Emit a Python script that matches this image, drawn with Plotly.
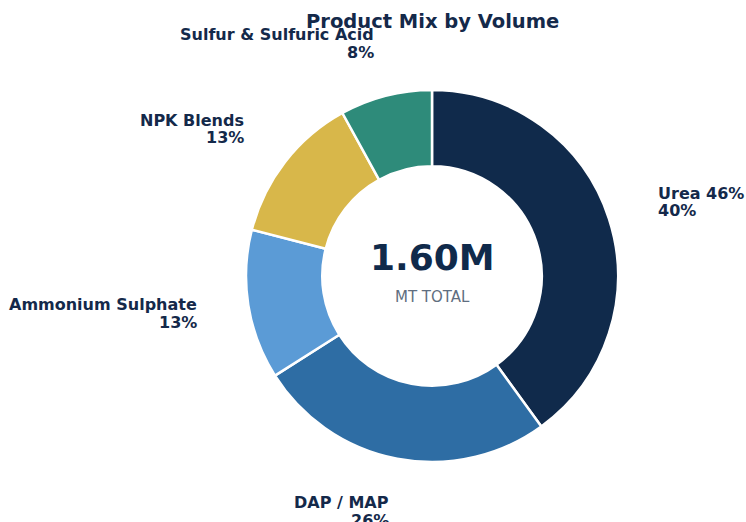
import math
import plotly.graph_objects as go

categories = ["Urea 46%", "DAP / MAP", "Ammonium Sulphate", "NPK Blends", "Sulfur & Sulfuric Acid"]
shares = [40, 26, 13, 13, 8]
colors = ["#102A4B", "#2E6DA4", "#5B9BD6", "#D8B74A", "#2E8B7A"]
total_label = "1.60M"
total_sub = "MT TOTAL"
title_text = "Product Mix by Volume"

W, H = 746, 522
cx, cy, R = 432, 276, 186
label_r = 1.29
line_gap = 8.75
pad_fix = 4
navy = "#14294A"
font_b = "DejaVu Sans"

fig = go.Figure()
fig.add_trace(go.Pie(
    labels=categories, values=shares, hole=0.59, sort=False, direction="clockwise",
    rotation=0, marker=dict(colors=colors, line=dict(color="white", width=2.5)),
    textinfo="none", showlegend=False, hoverinfo="label+percent",
    domain=dict(x=[(cx - R) / W, (cx + R) / W], y=[1 - (cy + R) / H, 1 - (cy - R) / H]),
))

annotations = []
total = sum(shares)
cum = 0
for name, v in zip(categories, shares):
    mid = (cum + v / 2) / total * 2 * math.pi
    cum += v
    sx, sy = math.sin(mid), math.cos(mid)
    xp = cx + label_r * R * sx
    yp = cy - label_r * R * sy
    pct = round(v / total * 100)
    right = sx >= 0
    for txt, dy in ((name, -line_gap), (f"{pct}%", line_gap)):
        annotations.append(dict(
            x=xp / W, y=1 - (yp + dy) / H, xref="paper", yref="paper",
            text=f"<b>{txt}</b>", showarrow=False,
            xanchor="left" if right else "right", yanchor="middle",
            xshift=-pad_fix if right else pad_fix,
            font=dict(family=font_b, size=16, color=navy),
        ))

annotations.append(dict(x=cx / W, y=1 - 257.5 / H, xref="paper", yref="paper",
                        text=f"<b>{total_label}</b>", showarrow=False,
                        xanchor="center", yanchor="middle",
                        font=dict(family=font_b, size=36, color="#102A4B")))
annotations.append(dict(x=cx / W, y=1 - 296.5 / H, xref="paper", yref="paper",
                        text=total_sub, showarrow=False,
                        xanchor="center", yanchor="middle",
                        font=dict(family=font_b, size=15, color="#5F6E80")))
annotations.append(dict(x=cx / W, y=1 - 21 / H, xref="paper", yref="paper",
                        text=f"<b>{title_text}</b>", showarrow=False,
                        xanchor="center", yanchor="middle",
                        font=dict(family=font_b, size=19.5, color=navy)))

fig.update_layout(
    width=W, height=H, margin=dict(l=0, r=0, t=0, b=0),
    paper_bgcolor="white", plot_bgcolor="white",
    annotations=annotations,
)
fig.write_html("out.html")
